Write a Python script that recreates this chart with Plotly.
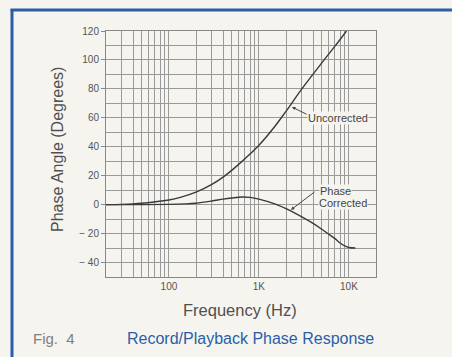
import numpy as np
import plotly.graph_objects as go

# ---- data ----
freq_uncorr = [20, 30, 50, 100, 134, 200, 300, 400, 600, 1000, 1500, 2000, 3000, 5000, 7000, 9400]
phase_uncorr = [0, 0.2, 1, 3.2, 5, 8.6, 14, 19, 28, 41, 54, 64.5, 80, 98, 109.5, 120]

freq_corr = [20, 50, 100, 150, 200, 300, 400, 500, 650, 800, 1000, 1500, 2000, 3000, 4000, 5000, 6000, 7000, 8000, 9000, 10000, 11800]
phase_corr = [0, 0, 0.2, 0.5, 1, 2.5, 3.8, 4.6, 5.3, 5.0, 3.8, 0.5, -2.8, -8.5, -13, -17, -20.5, -23.5, -26.5, -28.5, -29.6, -30]

x_grid = [20, 30, 40, 50, 60, 70, 80, 90, 100, 200, 300, 400, 500, 600, 700, 800, 900,
          1000, 2000, 3000, 4000, 5000, 6000, 7000, 8000, 9000, 10000, 20000]
x_labels = {100: "100", 1000: "1K", 10000: "10K"}
y_ticks = [-40, -20, 0, 20, 40, 60, 80, 100, 120]
y_ticktext = ["\u2212 40", "\u2212 20", "0", "20", "40", "60", "80", "100", "120"]

BG = "#f6f4ef"
GRID = "#9a9a9a"
CURVE = "#3a3a3a"
BLUE = "#2a5fa8"
FONT = "Liberation Sans, Arial, sans-serif"

fig = go.Figure()
fig.add_trace(go.Scatter(x=freq_uncorr, y=phase_uncorr, mode="lines",
                         line=dict(color=CURVE, width=1.4, shape="spline", smoothing=1),
                         showlegend=False, hoverinfo="skip"))
fig.add_trace(go.Scatter(x=freq_corr, y=phase_corr, mode="lines",
                         line=dict(color=CURVE, width=1.4, shape="spline", smoothing=1),
                         showlegend=False, hoverinfo="skip"))

W, H = 452, 357
L, R, T, B = 106, 76, 31, 80
pw, ph = W - L - R, H - T - B

def px(xp):
    return (xp - L) / pw

def py(yp):
    return (H - B - yp) / ph

fig.update_layout(
    width=W, height=H,
    margin=dict(l=L, r=R, t=T, b=B),
    paper_bgcolor=BG, plot_bgcolor=BG,
    font=dict(family=FONT, color="#555555"),
    xaxis=dict(
        type="log", range=[np.log10(20), np.log10(20000)],
        tickvals=x_grid, ticktext=[x_labels.get(v, "") for v in x_grid],
        showgrid=True, gridcolor=GRID, gridwidth=1,
        showline=True, mirror=True, linecolor="#888888", linewidth=1,
        ticks="", tickfont=dict(size=10, color="#555555"),
        zeroline=False, fixedrange=True,
    ),
    yaxis=dict(
        range=[-50, 120], tickvals=y_ticks, ticktext=y_ticktext,
        showgrid=True, gridcolor=GRID, gridwidth=1,
        minor=dict(dtick=10, tick0=0, showgrid=True, gridcolor=GRID, gridwidth=1),
        showline=True, mirror=True, linecolor="#888888", linewidth=1,
        ticks="outside", ticklen=4, tickcolor="#888888",
        tickfont=dict(size=10, color="#555555"),
        zeroline=False, fixedrange=True,
    ),
)

annotations = [
    dict(text="Phase Angle (Degrees)", xref="paper", yref="paper",
         x=px(57), y=py(150), textangle=-90, showarrow=False,
         font=dict(size=16, color="#505050"), xanchor="center", yanchor="middle"),
    dict(text="Frequency (Hz)", xref="paper", yref="paper",
         x=px(240), y=py(310), showarrow=False,
         font=dict(size=16.5, color="#505050"), xanchor="center", yanchor="middle"),
    dict(text="Fig.  4", xref="paper", yref="paper",
         x=px(31), y=py(338), showarrow=False,
         font=dict(size=15, color="#808080"), xanchor="left", yanchor="middle"),
    dict(text="Record/Playback Phase Response", xref="paper", yref="paper",
         x=px(125), y=py(338), showarrow=False,
         font=dict(size=16, color=BLUE), xanchor="left", yanchor="middle"),
    dict(text="Uncorrected", xref="paper", yref="paper",
         x=px(307), y=py(118), showarrow=False, bgcolor=BG, borderpad=0,
         font=dict(size=11, color="#444444"), xanchor="left", yanchor="middle"),
    dict(text="Phase", xref="paper", yref="paper",
         x=px(318.5), y=py(190.5), showarrow=False, bgcolor=BG, borderpad=0,
         font=dict(size=11, color="#444444"), xanchor="left", yanchor="middle"),
    dict(text="Corrected", xref="paper", yref="paper",
         x=px(317.5), y=py(202.5), showarrow=False, bgcolor=BG, borderpad=0,
         font=dict(size=11, color="#444444"), xanchor="left", yanchor="middle"),
    # leader arrows
    dict(text="", x=np.log10(2330), y=67.5, xref="x", yref="y",
         showarrow=True, ax=16, ay=8, arrowhead=2, arrowsize=0.7, arrowwidth=1,
         arrowcolor="#444444", standoff=0, startstandoff=0),
    dict(text="", x=np.log10(2270), y=-3.6, xref="x", yref="y",
         showarrow=True, ax=25, ay=-19, arrowhead=2, arrowsize=0.7, arrowwidth=1,
         arrowcolor="#444444", standoff=0, startstandoff=0),
]
fig.update_layout(annotations=annotations)

shapes = [
    dict(type="line", xref="paper", yref="paper", x0=px(12), x1=px(12), y0=py(9), y1=py(357),
         line=dict(color=BLUE, width=3)),
    dict(type="line", xref="paper", yref="paper", x0=px(10.5), x1=px(452), y0=py(10), y1=py(10),
         line=dict(color=BLUE, width=3)),
]
fig.update_layout(shapes=shapes)

fig.write_html("out.html", config={"displayModeBar": False, "staticPlot": True})

# remove default page margin so the figure sits at the window origin
with open("out.html", "r", encoding="utf-8") as f:
    html = f.read()
html = html.replace("<body>", '<body style="margin:0;padding:0;overflow:hidden;background:%s">' % BG, 1)
with open("out.html", "w", encoding="utf-8") as f:
    f.write(html)
